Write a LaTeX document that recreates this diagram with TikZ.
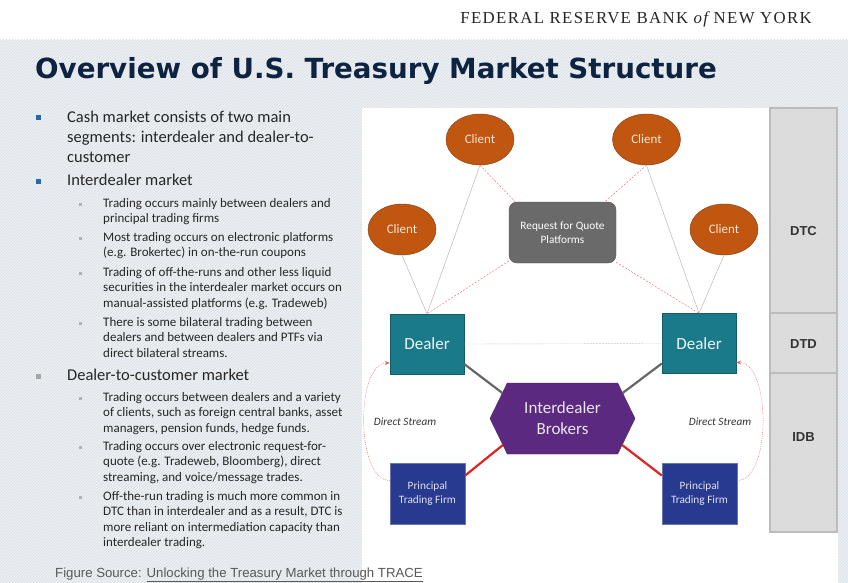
\documentclass[tikz,border=0pt]{standalone}
\usepackage{fontspec}
\setmainfont{Carlito}
\newfontfamily\headfont[LetterSpace=8]{Liberation Serif}
\newfontfamily\titlefont{DejaVu Sans}
\newfontfamily\arialfont{Liberation Sans}
\usetikzlibrary{patterns,shapes.geometric,shapes.symbols,arrows.meta}

\definecolor{clientorange}{HTML}{C0560F}
\definecolor{clientedge}{HTML}{7E3A10}
\definecolor{clienttext}{HTML}{F5E6D8}
\definecolor{rfqgray}{HTML}{6A6A6A}
\definecolor{dealerteal}{HTML}{1B7A89}
\definecolor{brokerpurple}{HTML}{5B2A80}
\definecolor{ptfblue}{HTML}{283A90}
\definecolor{bandgray}{HTML}{DCDCDC}
\definecolor{bandedge}{HTML}{BCBCBC}
\definecolor{titlenavy}{HTML}{0E2241}
\definecolor{hatchbg}{HTML}{EEF1F4}
\definecolor{hatchline}{HTML}{D6DDE5}
\definecolor{bulletblue}{HTML}{2E66AE}
\definecolor{linkred}{HTML}{E02424}
\definecolor{dashred}{HTML}{E86464}

\begin{document}
\begin{tikzpicture}[x=1pt,y=-1pt,
	client/.style={ellipse, draw=clientedge, fill=clientorange, minimum width=68pt, minimum height=51pt, inner sep=0pt, text=clienttext, font=\fontsize{13}{14}\selectfont},
	rfqbox/.style={rectangle, rounded corners=8pt, draw=rfqgray!80!black, fill=rfqgray, minimum width=107pt, minimum height=61pt, align=center, text=white, font=\fontsize{11.3}{13.5}\selectfont},
	dealer/.style={rectangle, draw=dealerteal!75!black, fill=dealerteal, minimum width=74pt, minimum height=60pt, text=white!92!dealerteal, font=\fontsize{17}{20}\selectfont},
	broker/.style={signal, signal to=west and east, signal pointer angle=128, draw=brokerpurple!80!black, fill=brokerpurple, minimum width=145pt, minimum height=71pt, inner sep=0pt, align=center, text=white!88!brokerpurple, font=\fontsize{17}{21}\selectfont},
	ptf/.style={rectangle, draw=ptfblue!70!white, fill=ptfblue, minimum width=75pt, minimum height=61pt, align=center, text=white!85!ptfblue, font=\fontsize{11.3}{14}\selectfont},
	band/.style={rectangle, draw=bandedge, line width=1.2pt, fill=bandgray, minimum width=67pt},
	bandtxt/.style={text=black!80, font=\arialfont\bfseries\fontsize{13}{14}\selectfont},
	% base anchor of a multi-line node sits on its last line
	mainitem/.style={anchor=base west, inner sep=0pt, align=left, text=black!85, font=\fontsize{16.5}{20}\selectfont},
	subitem/.style={anchor=base west, inner sep=0pt, align=left, text=black!85, font=\fontsize{13}{15.6}\selectfont},
	dslabel/.style={text=black!80, font=\itshape\fontsize{11.2}{12}\selectfont}
]
	\useasboundingbox (0,0) rectangle (848,583);
	\fill[white] (0,0) rectangle (848,583);
	% striped backdrop
	\fill[hatchbg] (0,40) rectangle (848,583);
	\fill[pattern=north east lines, pattern color=hatchline] (0,40) rectangle (848,583);
	\fill[white] (362,108) rectangle (838,583);

	\node[anchor=base east, inner sep=0pt, text=black!85, font=\headfont\fontsize{16.8}{18}\selectfont] (fed) at (812,23.5) {FEDERAL RESERVE BANK {\itshape of} NEW YORK};
	\node[anchor=base west, inner sep=0pt, text=titlenavy, font=\titlefont\bfseries\fontsize{27.7}{30}\selectfont] (title) at (35,79) {Overview of U.S. Treasury Market Structure};

	% bullets on the left
	\fill[bulletblue] (36,115.5) rectangle +(5,5);
	\fill[bulletblue] (36,178.5) rectangle +(5,5);
	\fill[gray!70] (36,373.5) rectangle +(5,5);
	\foreach \yy in {204,238,273,323,398,447,497}
		\fill[gray!60] (78.5,\yy-1.5) rectangle +(3,3);

	\node[mainitem] (cash) at (67,162) {Cash market consists of two main\\segments: interdealer and dealer-to-\\customer};
	\node[mainitem] (idm) at (67,185) {Interdealer market};
	\node[subitem] (idm1) at (103,222.6) {Trading occurs mainly between dealers and\\principal trading firms};
	\node[subitem] (idm2) at (103,256.6) {Most trading occurs on electronic platforms\\(e.g. Brokertec) in on-the-run coupons};
	\node[subitem] (idm3) at (103,307.2) {Trading of off-the-runs and other less liquid\\securities in the interdealer market occurs on\\manual-assisted platforms (e.g. Tradeweb)};
	\node[subitem] (idm4) at (103,357.2) {There is some bilateral trading between\\dealers and between dealers and PTFs via\\direct bilateral streams.};
	\node[mainitem] (dcm) at (67,380) {Dealer-to-customer market};
	\node[subitem] (dcm1) at (103,432.2) {Trading occurs between dealers and a variety\\of clients, such as foreign central banks, asset\\managers, pension funds, hedge funds.};
	\node[subitem] (dcm2) at (103,481.2) {Trading occurs over electronic request-for-\\quote (e.g. Tradeweb, Bloomberg), direct\\streaming, and voice/message trades.};
	\node[subitem] (dcm3) at (103,546.8) {Off-the-run trading is much more common in\\DTC than in interdealer and as a result, DTC is\\more reliant on intermediation capacity than\\interdealer trading.};

	\node[anchor=base west, inner sep=0pt, text=black!65, font=\arialfont\fontsize{13.2}{14}\selectfont] (src) at (55,577.5) {Figure Source: \underline{Unlocking the Treasury Market through TRACE}};

	% segment bands
	\node[band, minimum height=205pt] (dtc) at (803.5,210.5) {};
	\node[band, minimum height=60pt] (dtd) at (803.5,343) {};
	\node[band, minimum height=159pt] (idbband) at (803.5,452.5) {};
	\node[bandtxt] (dtctxt) at (803.5,231) {DTC};
	\node[bandtxt] (dtdtxt) at (803.5,344) {DTD};
	\node[bandtxt] (idbtxt) at (803.5,437) {IDB};

	% market participants
	\node[client] (cltTL) at (480,139.5) {Client};
	\node[client] (cltTR) at (646.5,139.5) {Client};
	\node[client] (cltL) at (402,229.5) {Client};
	\node[client] (cltR) at (724,229.5) {Client};
	\node[rfqbox] (rfq) at (562.5,232.5) {Request for Quote\\Platforms};
	\node[dealer] (dlrL) at (427,344) {Dealer};
	\node[dealer] (dlrR) at (699,343.5) {Dealer};
	\node[broker] (idb) at (562.5,418.5) {Interdealer\\Brokers};
	\node[ptf] (ptfL) at (427.5,493.5) {Principal\\Trading Firm};
	\node[ptf] (ptfR) at (699.5,493.5) {Principal\\Trading Firm};

	\draw[gray!65] (cltTL.south) -- (dlrL.north);
	\draw[gray!65] (cltL.south) -- (dlrL.north);
	\draw[gray!65] (cltTR.south) -- (dlrR.north);
	\draw[gray!65] (cltR.south) -- (dlrR.north);

	\draw[dashred, dash pattern=on 2pt off 1.5pt] (cltTL.south) -- (rfq.147);
	\draw[dashred, dash pattern=on 2pt off 1.5pt] (cltTR.south) -- (rfq.36);
	\draw[dashred, dash pattern=on 2pt off 1.5pt] (rfq.208) -- (dlrL.north);
	\draw[dashred, dash pattern=on 2pt off 1.5pt] (rfq.331) -- (dlrR.north);

	\draw[gray!40, dash pattern=on 2pt off 1pt] (dlrL.east) -- (dlrR.west);

	\draw[black!60, line width=2.2pt] ([yshift=-20pt]dlrL.east) -- (idb.157);
	\draw[black!60, line width=2.2pt] ([yshift=-20pt]dlrR.west) -- (idb.23);
	\draw[linkred, line width=2.2pt] ([yshift=18pt]ptfL.east) -- (idb.204);
	\draw[linkred, line width=2.2pt] ([yshift=18pt]ptfR.west) -- (idb.336);

	\draw[dashred, dash pattern=on 1pt off 1pt, -{Stealth[length=5pt,width=4pt]}] ([yshift=13pt]ptfL.west) to[out=180, in=180, looseness=0.75] ([yshift=-19pt]dlrL.west);
	\draw[dashred, dash pattern=on 1pt off 1pt, -{Stealth[length=5pt,width=4pt]}] ([yshift=13pt]ptfR.east) to[out=0, in=0, looseness=0.75] ([yshift=-19pt]dlrR.east);
	\node[dslabel] (dsL) at (405,422) {Direct Stream};
	\node[dslabel] (dsR) at (720,422) {Direct Stream};
\end{tikzpicture}
\end{document}
